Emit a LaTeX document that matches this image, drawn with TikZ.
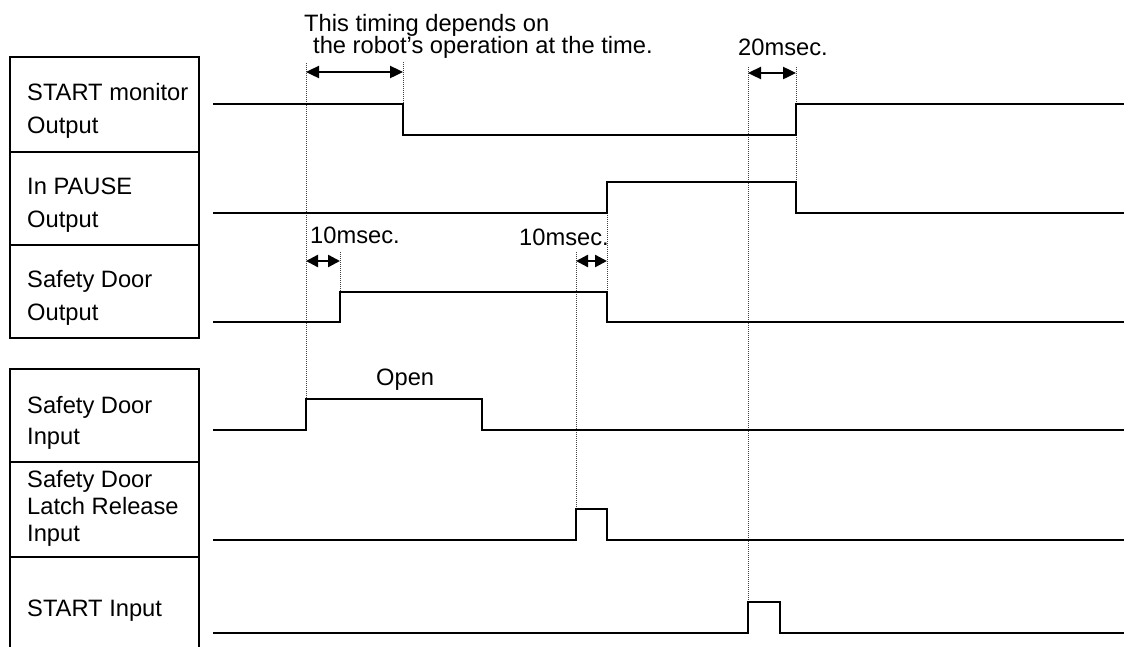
\documentclass[tikz,border=0pt]{standalone}
\usepackage{fontspec}
\setmainfont{Liberation Sans}
\usetikzlibrary{arrows.meta}
\tikzset{
  sig/.style={line width=2.6pt, line join=miter, line cap=butt},
  frame/.style={line width=2.8pt},
  guide/.style={line width=0.9pt, black!75, dash pattern=on 1pt off 1pt},
  dimarrow/.style={line width=2.4pt, {Triangle[length=13pt,width=12pt]}-{Triangle[length=13pt,width=12pt]}},
  smallarrow/.style={line width=2.4pt, {Triangle[length=12pt,width=12pt]}-{Triangle[length=12pt,width=12pt]}},
  lbl/.style={anchor=base west, inner sep=0pt, font=\fontsize{23.7}{28}\selectfont},
  txt/.style={inner sep=0pt, font=\fontsize{23.7}{28}\selectfont}
}
\begin{document}
\begin{tikzpicture}[x=1pt,y=-1pt]
\useasboundingbox (0,0) rectangle (1131,646);
% frames
\draw[frame] (10,57) rectangle (199,338);
\draw[frame] (10,152) -- (199,152);
\draw[frame] (10,245) -- (199,245);
\draw[frame] (10,650) -- (10,369) -- (199,369) -- (199,650);
\draw[frame] (10,462) -- (199,462);
\draw[frame] (10,557) -- (199,557);
% labels
\node[lbl] (l1a) at (27,100) {START monitor};
\node[lbl] (l1b) at (27,133) {Output};
\node[lbl] (l2a) at (27,194) {In PAUSE};
\node[lbl] (l2b) at (27,227) {Output};
\node[lbl] (l3a) at (27,287) {Safety Door};
\node[lbl] (l3b) at (27,320) {Output};
\node[lbl] (l4a) at (27,413) {Safety Door};
\node[lbl] (l4b) at (27,444) {Input};
\node[lbl] (l5a) at (27,487) {Safety Door};
\node[lbl] (l5b) at (27,514) {Latch Release};
\node[lbl] (l5c) at (27,541) {Input};
\node[lbl] (l6a) at (27,616) {START Input};
% guide lines
\draw[guide] (306,63) -- (306,399);
\draw[guide] (403,62) -- (403,104);
\draw[guide] (340,252) -- (340,292);
\draw[guide] (576,252) -- (576,509);
\draw[guide] (607,213) -- (607,292);
\draw[guide] (748,67) -- (748,602);
\draw[guide] (796,67) -- (796,104);
\draw[guide] (796,135) -- (796,182);
% signals
\draw[sig] (213,104) -- (403,104) -- (403,135) -- (796,135) -- (796,104) -- (1124,104);
\draw[sig] (213,213) -- (607,213) -- (607,182) -- (796,182) -- (796,213) -- (1124,213);
\draw[sig] (213,322) -- (340,322) -- (340,292) -- (607,292) -- (607,322) -- (1124,322);
\draw[sig] (213,430) -- (306,430) -- (306,399) -- (482,399) -- (482,430) -- (1124,430);
\draw[sig] (213,540) -- (576,540) -- (576,509) -- (607,509) -- (607,540) -- (1124,540);
\draw[sig] (213,633) -- (748,633) -- (748,602) -- (780,602) -- (780,633) -- (1124,633);
% dimension arrows
\coordinate (a1) at (306,72);
\coordinate (a2) at (403,72);
\coordinate (b1) at (748,73);
\coordinate (b2) at (796,73);
\coordinate (c1) at (306,261);
\coordinate (c2) at (340,261);
\coordinate (d1) at (576,261);
\coordinate (d2) at (607,261);
\draw[dimarrow] (a1) -- (a2);
\draw[dimarrow] (b1) -- (b2);
\draw[smallarrow] (c1) -- (c2);
\draw[smallarrow] (d1) -- (d2);
% texts
\node[txt, anchor=base west] (t1) at (304,31) {This timing depends on};
\node[txt, anchor=base west] (t2) at (313,53) {the robot’s operation at the time.};
\node[txt, anchor=base west] (t3) at (738,55) {20msec.};
\node[txt, anchor=base west] (t4) at (310,243) {10msec.};
\node[txt, anchor=base west] (t5) at (519,245) {10msec.};
\node[txt, anchor=base west] (t6) at (376,385) {Open};
\end{tikzpicture}
\end{document}
